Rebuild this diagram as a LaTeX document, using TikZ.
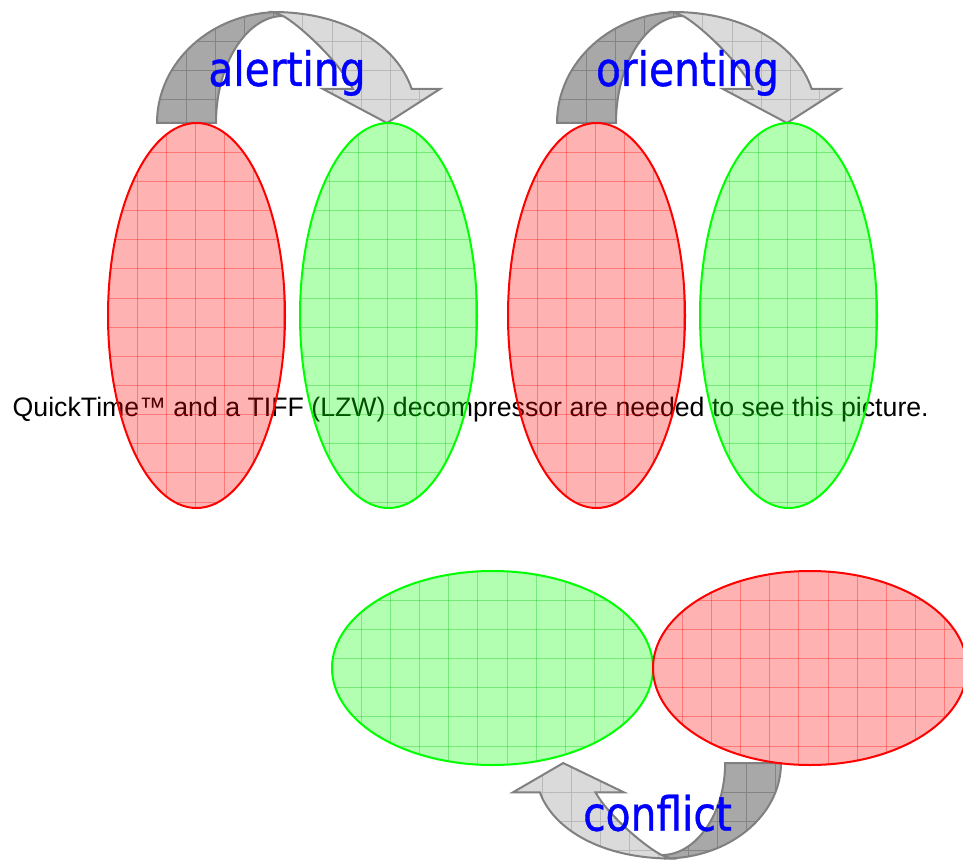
\documentclass[tikz,border=0pt]{standalone}
\usepackage{fontspec}
\setmainfont{Liberation Sans}
\newfontfamily\labelfont[FakeStretch=0.86,FakeBold=0.8]{DejaVu Sans}
\usetikzlibrary{shapes.geometric,calc}

\definecolor{arrdark}{RGB}{168,168,168}
\definecolor{arrlight}{RGB}{218,218,218}
\definecolor{arredge}{RGB}{128,128,128}
\definecolor{arrgridd}{RGB}{132,132,132}
\definecolor{arrgridl}{RGB}{185,185,185}
\definecolor{labelblue}{RGB}{0,0,255}

% the two halves of a curved block arrow (y grows downwards)
\newcommand\arrdarkpath{(157,123) .. controls (157,61.7) and (212.1,12) .. (280,12)
  -- (283,16) .. controls (246.9,16) and (216,63.9) .. (216,123) -- cycle}
\newcommand\arrlightpath{(273,12) .. controls (345,12) and (397,45) .. (411.7,89)
  -- (440,89) -- (387,123) -- (323,89) -- (353,89)
  .. controls (338,60) and (298,24) .. (283,16) -- cycle}

% #1,#2: top-left corner of the arrow's grid in page coordinates
\newcommand\gridfill[3]{%
  \begin{scope}[reset cm]
    \foreach \k in {1,...,11}
      \draw[#3] ({#1+\k*29.15},{#2-5}) -- ++(0,140);
    \foreach \k in {1,...,4}
      \draw[#3] ({#1-5},{#2+\k*29.15}) -- ++(300,0);
  \end{scope}}

\newcommand\drawcurvedarrow[2]{%
  \fill[arrdark] \arrdarkpath;
  \begin{scope}\clip \arrdarkpath; \gridfill{#1}{#2}{arrgriddark}\end{scope}
  \draw[arrline] \arrdarkpath;
  \fill[arrlight] \arrlightpath;
  \begin{scope}\clip \arrlightpath; \gridfill{#1}{#2}{arrgridlight}\end{scope}
  \draw[arrline] \arrlightpath;}

\begin{document}
\begin{tikzpicture}[x=1pt,y=-1pt,
  arrline/.style={draw=arredge,line width=2pt,line join=miter},
  arrgriddark/.style={draw=arrgridd,line width=0.8pt},
  arrgridlight/.style={draw=arrgridl,line width=0.8pt},
  blobgrid/.style={line width=0.8pt,draw opacity=0.32},
  blob/.style={ellipse,inner sep=0pt,outer sep=0pt,line width=2pt,
    fill opacity=0.30,
    path picture={
      \foreach \k in {1,...,14} {
        \draw[blobgrid,draw=#1] ($(path picture bounding box.north west)+({\k*29.15},0)$) -- ++(0,420);
        \draw[blobgrid,draw=#1] ($(path picture bounding box.north west)+(0,{\k*29.15})$) -- ++(340,0);
      }}},
  blobred/.style={blob=red,draw=red,fill=red},
  blobgreen/.style={blob=green!75!black,draw=green,fill=green},
  tall/.style={minimum width=177pt,minimum height=385pt},
  wide/.style={minimum height=194pt},
  lbl/.style={anchor=base,inner sep=0pt,text=labelblue,
    font=\labelfont\fontsize{47.4}{50}\selectfont},
  qtnote/.style={anchor=base west,inner sep=0pt,text=black,
    font=\fontsize{26.7}{30}\selectfont}]

\useasboundingbox (0,0) rectangle (963,861);
\fill[white] (0,0) rectangle (963,861);

\node[qtnote] (qt) at (12.5,416.7)
  {QuickTime™ and a TIFF (LZW) decompressor are needed to see this picture.};

% curved arrows
\begin{scope}
  \drawcurvedarrow{157}{12}
\end{scope}
\begin{scope}[shift={(400,0)}]
  \drawcurvedarrow{557}{12}
\end{scope}
\begin{scope}[shift={(929.68,868.82)},xscale=-0.947,yscale=-0.86]
  \drawcurvedarrow{513}{763}
\end{scope}

% ellipses
\node[blobred,tall]   (r1) at (196.5,315.5) {};
\node[blobgreen,tall] (g1) at (388.5,315.5) {};
\node[blobred,tall]   (r2) at (596.5,315.5) {};
\node[blobgreen,tall] (g2) at (788.5,315.5) {};
\node[blobgreen,wide,minimum width=321pt] (g3) at (492.5,668) {};
\node[blobred,wide,minimum width=314pt]   (r3) at (810,668) {};

% labels
\node[lbl] (alerting)  at (287,86)    {alerting};
\node[lbl] (orienting) at (687.5,86)  {orienting};
\node[lbl] (conflict)  at (657.5,830.7) {conflict};
\end{tikzpicture}
\end{document}
